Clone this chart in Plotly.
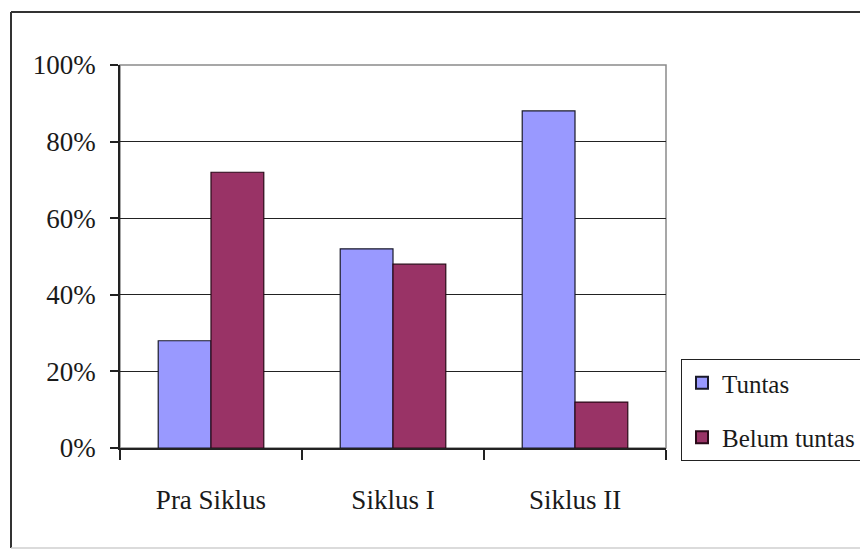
import plotly.graph_objects as go

categories = ["Pra Siklus", "Siklus I", "Siklus II"]
tuntas = [28, 52, 88]
belum_tuntas = [72, 48, 12]
series_names = ["Tuntas", "Belum tuntas"]
y_ticks = [0, 20, 40, 60, 80, 100]
y_tick_labels = ["0%", "20%", "40%", "60%", "80%", "100%"]

FONT = dict(family="Liberation Serif, Times New Roman, serif", size=27, color="#1a1a1a")
LEGEND_FONT = dict(family="Liberation Serif, Times New Roman, serif", size=25, color="#1a1a1a")

fig = go.Figure()
fig.add_trace(go.Bar(x=categories, y=tuntas, name=series_names[0], legendgroup="a",
                     marker=dict(color="#9999FF", line=dict(color="#1a1a2a", width=1.2))))
fig.add_trace(go.Bar(x=categories, y=belum_tuntas, name=series_names[1], legendgroup="b",
                     marker=dict(color="#993366", line=dict(color="#2a0a18", width=1.2))))

L, R, T, B = 120, 666, 65, 448
W, H = 860, 550

def px(x):
    return (x - L) / (R - L)

def py(y):
    return (B - y) / (B - T)

fig.update_layout(
    width=W, height=H,
    margin=dict(l=L, r=W - R, t=T, b=H - B, autoexpand=False),
    paper_bgcolor="white", plot_bgcolor="white",
    font=FONT,
    barmode="group", bargap=0.42, bargroupgap=0,
    showlegend=True,
    legend=dict(x=px(681), xanchor="left", y=py(359), yanchor="top",
                bordercolor="#222", borderwidth=1, bgcolor="white",
                tracegroupgap=19, font=LEGEND_FONT, itemsizing="constant"),
    xaxis=dict(type="category", showline=True, linecolor="#222", linewidth=1.5,
               ticks="outside", tickson="boundaries", ticklen=10, tickcolor="#222",
               tickwidth=1.5, showgrid=False, ticklabelstandoff=27, tickfont=FONT),
    yaxis=dict(range=[0, 100], tickvals=y_ticks, ticktext=y_tick_labels,
               showline=True, linecolor="#222", linewidth=1.5,
               ticks="outside", ticklen=8, tickcolor="#222", tickwidth=1.5,
               showgrid=True, gridcolor="#222", gridwidth=1, zeroline=False,
               ticklabelstandoff=9, tickfont=FONT),
    shapes=[
        dict(type="rect", xref="paper", yref="paper", x0=0, x1=1, y0=0, y1=1,
             line=dict(color="#8a8a8a", width=1.5), layer="below"),
        # outer chart frame
        dict(type="line", xref="paper", yref="paper", x0=px(11), x1=px(862),
             y0=py(12), y1=py(12), line=dict(color="#333", width=2), layer="below"),
        dict(type="line", xref="paper", yref="paper", x0=px(11), x1=px(11),
             y0=py(12), y1=py(548), line=dict(color="#333", width=2), layer="below"),
        dict(type="line", xref="paper", yref="paper", x0=px(11), x1=px(862),
             y0=py(548), y1=py(548), line=dict(color="#cfcfcf", width=1.5), layer="below"),
    ],
)

fig.write_html("out.html")
